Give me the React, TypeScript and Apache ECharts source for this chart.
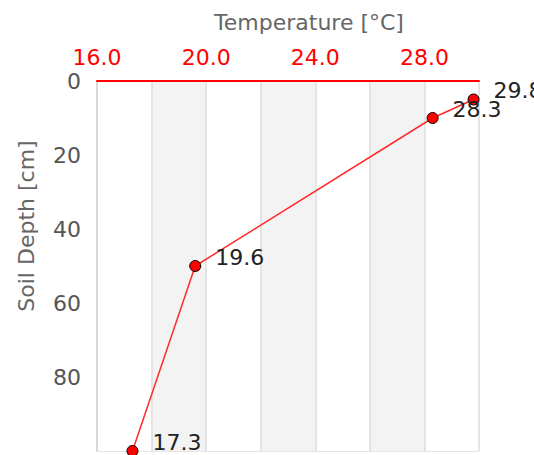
import React, { useEffect, useRef } from "react";
import * as echarts from "echarts";

const temperatures = [29.8, 28.3, 19.6, 17.3];
const depths = [5, 10, 50, 100];
const xTickLabels = ["16.0", "20.0", "24.0", "28.0"];
const xMin = 16;
const xMax = 30;
const xStep = 2;
const yMin = 0;
const yMax = 100;
const yStep = 20;

export default function App() {
  const ref = useRef<HTMLDivElement>(null);
  useEffect(() => {
    if (!ref.current) return;
    const chart = echarts.init(ref.current, null, { renderer: "svg" });
    const font = "DejaVu Sans";
    chart.setOption({
      animation: false,
      backgroundColor: "#ffffff",
      grid: { left: 97, right: 55, top: 81, bottom: 4, outerBoundsMode: "none" },
      xAxis: {
        type: "value",
        position: "top",
        min: xMin,
        max: xMax,
        interval: xStep,
        name: "Temperature [°C]",
        nameLocation: "middle",
        nameGap: 48,
        nameTextStyle: { color: "#666", fontSize: 22, fontFamily: font, padding: [0, 0, 0, 42] },
        axisLine: { show: true, lineStyle: { color: "#ff0000", width: 2 } },
        axisTick: { show: false },
        axisLabel: {
          color: "#ff0000",
          fontSize: 22,
          fontFamily: font,
          margin: 13,
          formatter: (v: number) => {
            const s = v.toFixed(1);
            return xTickLabels.includes(s) ? s : "";
          },
        },
        splitLine: { show: true, lineStyle: { color: "#dddddd", width: 1.5 } },
        splitArea: { show: true, areaStyle: { color: ["#ffffff", "#f3f3f3"] } },
      },
      yAxis: {
        type: "value",
        inverse: true,
        min: yMin,
        max: yMax,
        interval: yStep,
        name: "Soil Depth [cm]",
        nameLocation: "middle",
        nameGap: 60,
        nameTextStyle: { color: "#666", fontSize: 22, fontFamily: font, padding: [0, 0, 0, 80] },
        axisLine: { show: true, lineStyle: { color: "#d8d8d8", width: 2 } },
        axisTick: { show: false },
        axisLabel: { color: "#555", fontSize: 22, fontFamily: font, margin: 16, showMaxLabel: false },
        splitLine: { show: true, lineStyle: { color: "#dddddd", width: 1.5 } },
      },
      series: [
        {
          type: "line",
          data: temperatures.map((t, i) => [t, depths[i]]),
          lineStyle: { color: "#ff2a2a", width: 1.5 },
          symbol: "circle",
          symbolSize: 11,
          itemStyle: { color: "#ff0000", borderColor: "#000000", borderWidth: 1 },
          label: {
            show: true,
            position: "right",
            distance: 14,
            offset: [0, -9],
            color: "#222",
            fontSize: 22,
            fontFamily: font,
            formatter: (p: any) => p.value[0].toFixed(1),
          },
        },
      ],
    });
    return () => chart.dispose();
  }, []);
  return (
    <div
      ref={ref}
      style={{ position: "absolute", left: 0, top: 0, width: 534, height: 455 }}
    />
  );
}
